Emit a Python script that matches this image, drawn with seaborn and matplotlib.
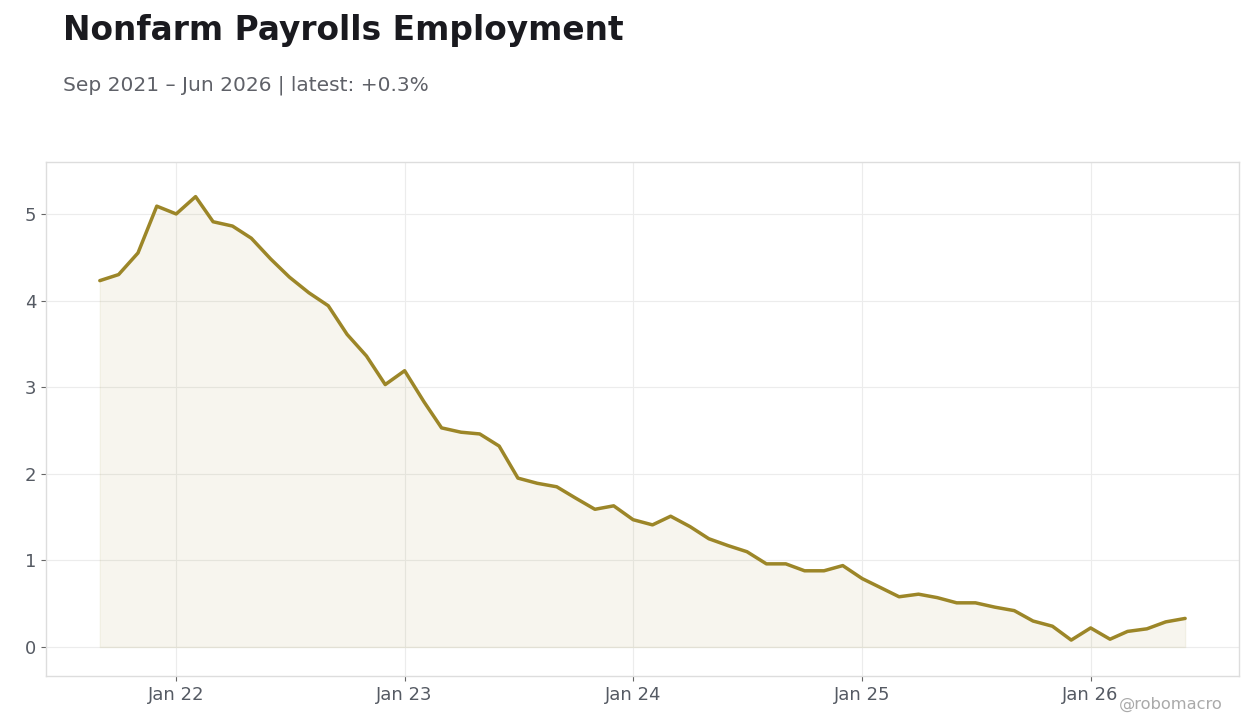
import pandas as pd
import seaborn as sns
import matplotlib.pyplot as plt
import matplotlib.dates as mdates

# monthly yoy % change, Sep 2021 .. Jun 2026
months = pd.date_range('2021-09-01', '2026-06-01', freq='MS')
values = [4.23, 4.30, 4.55, 5.09, 5.00, 5.20, 4.91, 4.86, 4.72, 4.48,
          4.27, 4.09, 3.94, 3.61, 3.36, 3.03, 3.19, 2.83, 2.53, 2.48,
          2.46, 2.32, 1.95, 1.89, 1.85, 1.72, 1.59, 1.63, 1.47, 1.41,
          1.51, 1.39, 1.25, 1.17, 1.10, 0.96, 0.96, 0.88, 0.88, 0.94,
          0.79, 0.68, 0.58, 0.61, 0.57, 0.51, 0.51, 0.46, 0.42, 0.30,
          0.24, 0.08, 0.22, 0.09, 0.18, 0.21, 0.29, 0.33]
title = 'Nonfarm Payrolls Employment'
subtitle = 'Sep 2021 – Jun 2026 | latest: +0.3%'

df = pd.DataFrame({'date': months, 'value': values})

sns.set_theme(style='whitegrid')
plt.rcParams['font.family'] = ['DejaVu Sans']

line_color = '#9c8628'
fig = plt.figure(figsize=(12.6, 7.28), dpi=100)
ax = fig.add_axes([0.0365, 0.0714, 0.9468, 0.7061])

ax.fill_between(df['date'], 0, df['value'], color=line_color, alpha=0.08, linewidth=1)
sns.lineplot(data=df, x='date', y='value', ax=ax, color=line_color, linewidth=2.5)

ax.set_ylim(-0.335, 5.6)
ax.set_xlim(mdates.date2num(months[0]) - 86, mdates.date2num(months[-1]) + 86)
ax.set_yticks([0, 1, 2, 3, 4, 5])
ax.xaxis.set_major_locator(mdates.YearLocator())
ax.xaxis.set_major_formatter(mdates.DateFormatter('Jan %y'))
ax.set_xlabel('')
ax.set_ylabel('')

ax.grid(True, color='#ececec', linewidth=0.8)
for s in ax.spines.values():
    s.set_color('#dddddd')
    s.set_linewidth(1)
ax.tick_params(axis='both', colors='#555a63', labelsize=13, length=3.5, width=0.8,
               direction='out', bottom=True, left=True)
ax.tick_params(axis='both', color='#666666')

fig.text(0.05, 0.958, title, fontsize=23.7, fontweight='bold', color='#1a1a1f', va='center')
fig.text(0.05, 0.883, subtitle, fontsize=14.5, color='#5f6168', va='center')
fig.text(0.97, 0.032, '@robomacro', fontsize=11.7, color='#aaaaaa', ha='right', va='center')

fig.savefig('out.png', dpi=100)
